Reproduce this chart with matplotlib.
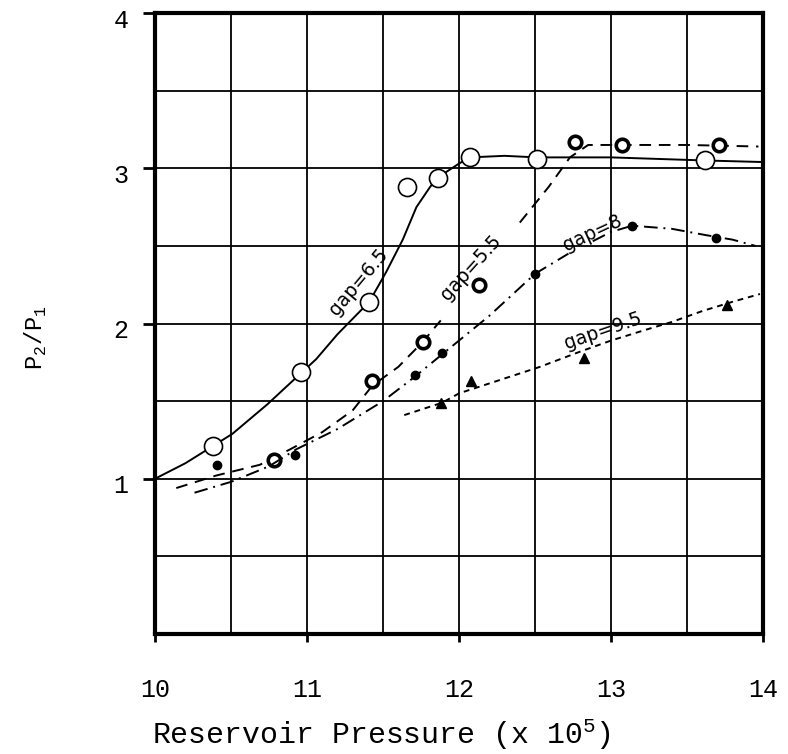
import matplotlib.pyplot as plt
import matplotlib.transforms as mtransforms
import numpy as np

plt.rcParams['font.family'] = ['Liberation Mono', 'DejaVu Sans Mono']
plt.rcParams['mathtext.fontset'] = 'custom'
plt.rcParams['mathtext.rm'] = 'Liberation Mono'

# gap = 6.5 : open circles, solid curve
g65_x = [10.38, 10.96, 11.41, 11.66, 11.86, 12.07, 12.51, 13.62]
g65_y = [1.21, 1.69, 2.14, 2.88, 2.94, 3.07, 3.06, 3.05]
g65_cx = [10.0, 10.2, 10.38, 10.51, 10.74, 10.96, 11.06, 11.2, 11.41, 11.52, 11.63,
          11.72, 11.81, 11.86, 12.0, 12.07, 12.3, 12.51, 13.0, 13.62, 14.0]
g65_cy = [1.0, 1.1, 1.21, 1.29, 1.48, 1.68, 1.77, 1.93, 2.14, 2.33, 2.54,
          2.75, 2.88, 2.94, 3.03, 3.07, 3.08, 3.07, 3.07, 3.05, 3.04]

# gap = 5.5 : bold circles, dashed curve
g55_x = [10.78, 11.43, 11.76, 12.13, 12.76, 13.07, 13.71]
g55_y = [1.12, 1.63, 1.88, 2.25, 3.17, 3.15, 3.15]
g55_cx1 = [10.14, 10.4, 10.69, 10.89, 11.1, 11.3, 11.43, 11.6, 11.76, 11.88]
g55_cy1 = [0.94, 1.02, 1.09, 1.19, 1.3, 1.44, 1.6, 1.72, 1.88, 2.02]
g55_cx2 = [12.4, 12.59, 12.73, 12.85, 13.07, 13.5, 13.97]
g55_cy2 = [2.65, 2.88, 3.07, 3.15, 3.15, 3.15, 3.14]

# gap = 8 : filled dots, dash-dot curve
g8_x = [10.41, 10.92, 11.71, 11.89, 12.5, 13.14, 13.69]
g8_y = [1.09, 1.15, 1.67, 1.81, 2.32, 2.63, 2.55]
g8_cx1 = [10.26, 10.5, 10.75, 10.93, 11.2, 11.5, 11.7, 11.9, 12.2, 12.5, 12.72]
g8_cy1 = [0.91, 0.98, 1.08, 1.19, 1.32, 1.5, 1.65, 1.81, 2.05, 2.32, 2.45]
g8_cx2 = [12.88, 13.0, 13.14, 13.4, 13.62, 13.8, 13.95]
g8_cy2 = [2.53, 2.59, 2.63, 2.61, 2.57, 2.54, 2.5]

# gap = 9.5 : filled triangles, short dashed curve
g95_x = [11.88, 12.08, 12.82, 13.76]
g95_y = [1.49, 1.63, 1.78, 2.12]
g95_cx = [11.64, 11.89, 12.0, 12.25, 12.53, 12.8, 13.0, 13.23, 13.4, 13.6, 13.8, 13.98]
g95_cy = [1.41, 1.49, 1.55, 1.63, 1.72, 1.82, 1.89, 1.96, 2.01, 2.08, 2.14, 2.19]

labels = ['gap=6.5', 'gap=5.5', 'gap=8', 'gap=9.5']
label_x = [11.34, 12.08, 12.88, 12.95]
label_y = [2.27, 2.36, 2.58, 1.95]
label_rot = [50, 48, 25, 19]

fig = plt.figure(figsize=(7.88, 7.54), dpi=100)
ax = fig.add_axes([155/788, 1-634/754, (763-155)/788, (634-13)/754])

lw = 1.4
ax.plot(g65_cx, g65_cy, color='k', lw=lw)
ax.plot(g65_x, g65_y, 'o', ms=13, mfc='white', mec='k', mew=1.2)

ax.plot(g55_cx1, g55_cy1, color='k', lw=lw, ls=(0, (6, 4)))
ax.plot(g55_cx2, g55_cy2, color='k', lw=lw, ls=(0, (6, 4)))
ax.plot(g55_x, g55_y, 'o', ms=9, mfc='white', mec='k', mew=2.6)

ax.plot(g8_cx1, g8_cy1, color='k', lw=lw, ls=(0, (7, 3, 1, 3)))
ax.plot(g8_cx2, g8_cy2, color='k', lw=lw, ls=(0, (7, 3, 1, 3)))
ax.plot(g8_x, g8_y, 'o', ms=6, color='k')

ax.plot(g95_cx, g95_cy, color='k', lw=lw, ls=(0, (3, 2.5)))
ax.plot(g95_x, g95_y, '^', ms=7, color='k')

for t, x, y, r in zip(labels, label_x, label_y, label_rot):
    ax.text(x, y, t, rotation=r, ha='center', va='center', fontsize=13.5,
            family='DejaVu Sans', rotation_mode='anchor')

ax.set_xlim(10, 14)
ax.set_ylim(0, 4)
ax.set_xticks(np.arange(10, 14.01, 0.5), minor=True)
ax.set_yticks(np.arange(0, 4.01, 0.5), minor=True)
ax.set_xticks([10, 11, 12, 13, 14])
ax.set_yticks([1, 2, 3, 4])
ax.grid(which='both', color='k', lw=1.3)
ax.tick_params(which='minor', length=0)
ax.tick_params(axis='x', which='major', direction='out', length=6, width=2, pad=26, labelsize=18)
ax.tick_params(axis='y', which='major', direction='out', length=9, width=2, pad=10, labelsize=18)
for s in ax.spines.values():
    s.set_linewidth(3)

shift = mtransforms.ScaledTranslation(0, -5/100, fig.dpi_scale_trans)
for lab in ax.get_yticklabels():
    lab.set_transform(lab.get_transform() + shift)

ax.set_xlabel('Reservoir Pressure (x 10$^5$)', fontsize=21.5, va='center')
ax.xaxis.set_label_coords(0.373, -0.161)
ax.set_ylabel('P$_2$/P$_1$', fontsize=17, va='center')
ax.yaxis.set_label_coords(-0.196, 0.477)

fig.savefig('out.png', dpi=100)
